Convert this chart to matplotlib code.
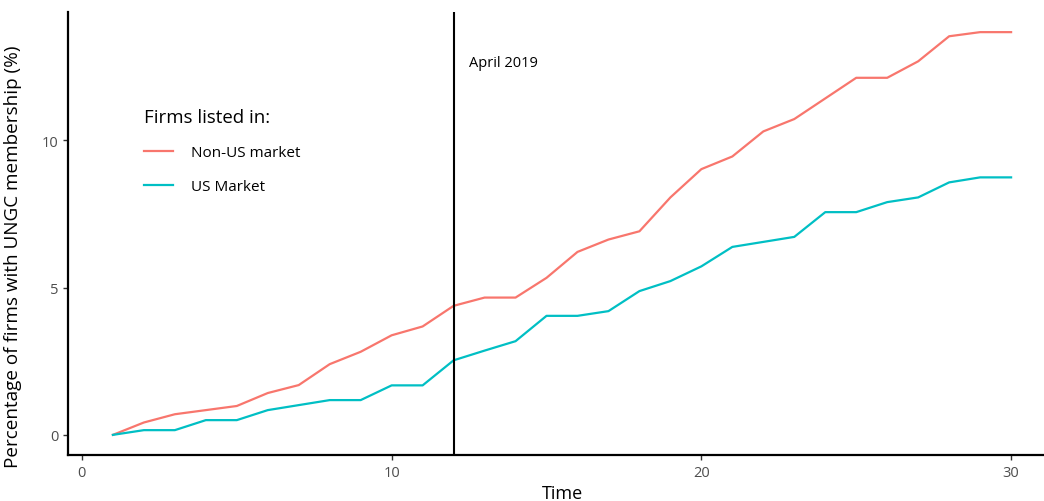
import matplotlib
matplotlib.use("Agg")
import matplotlib.pyplot as plt

# share of firms with UNGC membership, by listing market
time = list(range(1, 31))
non_us = [0.00, 0.42, 0.70, 0.84, 0.98, 1.42, 1.69, 2.40, 2.82, 3.38,
          3.68, 4.38, 4.66, 4.66, 5.33, 6.21, 6.63, 6.91, 8.06, 9.02,
          9.45, 10.30, 10.72, 11.42, 12.12, 12.12, 12.68, 13.53, 13.67, 13.67]
us = [0.00, 0.16, 0.16, 0.50, 0.50, 0.84, 1.01, 1.18, 1.18, 1.68,
      1.68, 2.53, 2.86, 3.18, 4.04, 4.04, 4.20, 4.88, 5.22, 5.72,
      6.38, 6.55, 6.72, 7.56, 7.56, 7.90, 8.06, 8.57, 8.74, 8.74]
series_names = ["Non-US market", "US Market"]
event_time = 12
event_label = "April 2019"

plt.rcParams['font.family'] = ['Open Sans', 'DejaVu Sans']

W, H = 1044, 502
fig = plt.figure(figsize=(W / 100, H / 100), dpi=100)
# right edge runs past the figure, so the panel is cut off at the border
ax = fig.add_axes([68 / W, 1 - 456 / H, (1056 - 68) / W, (456 - 13) / H])

ax.plot(time, non_us, color="#F8766D", lw=1.6, label=series_names[0])
ax.plot(time, us, color="#00BFC4", lw=1.6, label=series_names[1])
ax.axvline(event_time, color="black", lw=1.5)
ax.text(event_time + 0.5, 12.63, event_label, fontsize=10.5, va="center")

lo = min(min(non_us), min(us))
hi = max(max(non_us), max(us))
pad = (hi - lo) * 0.05
ax.set_ylim(lo - pad, hi + pad)
xpad = (max(time) - min(time)) * 0.05
ax.set_xlim(min(time) - xpad, max(time) + xpad)

ax.set_xticks([0, 10, 20, 30])
ax.set_yticks([0, 5, 10])
ax.tick_params(colors="#333333", labelcolor="#4D4D4D", labelsize=10.5,
               length=3.5, width=1)

for side in ["top", "right"]:
    ax.spines[side].set_visible(False)
for side in ["left", "bottom"]:
    ax.spines[side].set_linewidth(1.6)
    ax.spines[side].set_color("black")

ax.set_xlabel("Time", fontsize=13, labelpad=3)
ax.set_ylabel("Percentage of firms with UNGC membership (%)", fontsize=13.6)
ax.yaxis.set_label_coords(-46 / (1056 - 68), (456 - 257) / (456 - 13))

leg = ax.legend(title="Firms listed in:", frameon=False, loc="upper left",
                bbox_to_anchor=((130 - 68) / (1056 - 68), (456 - 95) / (456 - 13)),
                fontsize=11, title_fontsize=13.4, handlelength=1.9,
                handletextpad=1.2, labelspacing=1.25)
leg._legend_box.align = "left"

fig.savefig("out.png", dpi=100)
